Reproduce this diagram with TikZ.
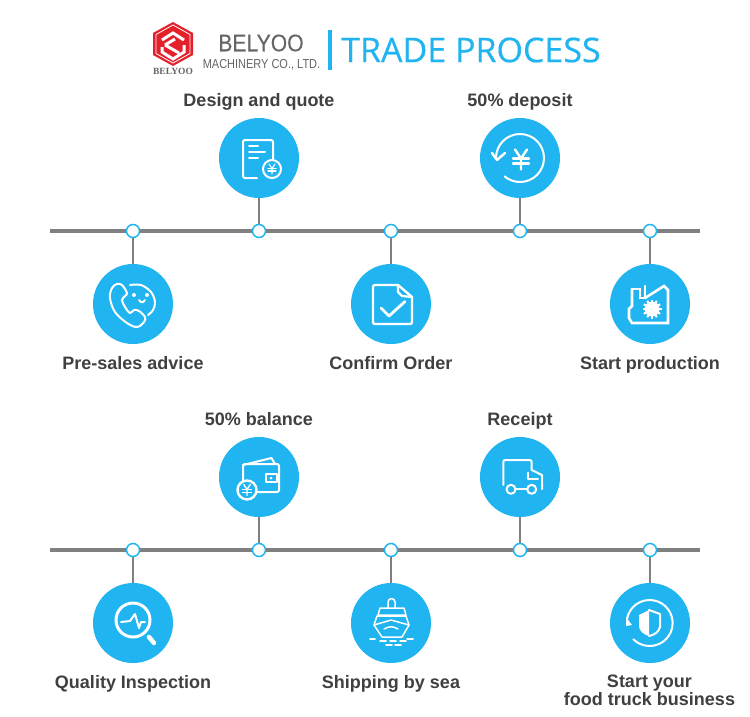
\documentclass[tikz,border=0pt]{standalone}
\usepackage{fontspec}
\setmainfont{Liberation Sans}
\newfontfamily\titlefont[FakeBold=0.4]{Open Sans}
\newfontfamily\brandfont{Liberation Serif}
\newfontfamily\namefont[FakeBold=0.3]{Liberation Sans}
\usetikzlibrary{arrows.meta, positioning, calc}
\definecolor{skyblue}{HTML}{20B4F0}
\definecolor{railgray}{HTML}{808080}
\definecolor{labelgray}{HTML}{404040}
\definecolor{logored}{HTML}{E6202A}
\definecolor{logogray}{HTML}{666666}

\tikzset{
  rail/.style={railgray, line width=4pt},
  stem/.style={railgray, line width=2pt},
  hub/.style={circle, draw=skyblue, fill=white, line width=1.5pt, minimum size=13pt, inner sep=0pt},
  badge/.style={circle, fill=skyblue, minimum size=80pt, inner sep=0pt},
  steplabel/.style={text=labelgray, font=\fontsize{18}{18}\selectfont\bfseries, align=center, anchor=base},
  icon/.style={white, line width=2pt, line cap=round, line join=round},
}

% yen sign drawn from strokes: #1 centre, #2 half height, #3 stroke
\newcommand{\yenmark}[3]{
  \begin{scope}[shift={#1}, scale=#2]
    \draw[icon, line width=#3] (-0.6,-1) -- (0,-0.1) -- (0.6,-1) (0,-0.1) -- (0,1);
    \draw[icon, line width=#3] (-0.8,-0.1) -- (0.8,-0.1) (-0.8,0.4) -- (0.8,0.4);
  \end{scope}
}

\begin{document}
\begin{tikzpicture}[x=1pt, y=-1pt]
\useasboundingbox (0,0) rectangle (750,716);
\fill[white] (0,0) rectangle (750,716);

% Logo
\fill[logored] (173,22) -- (193,33) -- (193,55) -- (173,66) -- (153,55) -- (153,33) -- cycle;
\draw[white, line width=0.8pt] (173,25) -- (190,34.5) -- (190,53.5) -- (173,63) -- (156,53.5) -- (156,34.5) -- cycle;
\draw[white, line width=3pt, line join=miter] (162,40) -- (173,33) -- (184,40) (165,45) -- (175,39) (165,45) -- (179,53) (162,47) -- (162,52) -- (173,59) -- (184,52) -- (184,45);
\node[text=logogray, font=\fontsize{9.5}{10}\selectfont\brandfont\bfseries] (brandmark) at (173,71.5) {BELYOO};
\node[text=logogray, font=\fontsize{24}{26}\selectfont\namefont] (brandname) at (261,43) {\scalebox{0.88}[1]{BELYOO}};
\node[text=logogray, font=\fontsize{13}{15}\selectfont] (brandsub) at (261.5,65) {\scalebox{0.845}[1]{MACHINERY CO., LTD.}};
\fill[skyblue] (328,30) rectangle (332,70);
\node[text=skyblue, font=\fontsize{34}{40}\selectfont\titlefont, anchor=west, inner sep=0pt] (title) at (341,50) {TRADE PROCESS};

% Timelines
\foreach \railname/\raily in {railone/231, railtwo/550} {
  \coordinate (\railname west) at (50,\raily);
  \coordinate (\railname east) at (700,\raily);
  \draw[rail] (\railname west) -- (\railname east);
}

% Stations: name/x/rail y/badge y/label baseline/text
\foreach \sname/\sx/\sy/\by/\ly/\stext in {
  presales/133/231/304/369/Pre-sales advice,
  design/259/231/158/106/Design and quote,
  confirm/391/231/304/369/Confirm Order,
  deposit/520/231/158/106/50\% deposit,
  production/650/231/304/369/Start production,
  inspection/133/550/623/688/Quality Inspection,
  balance/259/550/477/425/50\% balance,
  shipping/391/550/623/688/Shipping by sea,
  receipt/520/550/477/425/Receipt} {
  \node[badge] (\sname badge) at (\sx,\by) {};
  \node[hub] (\sname hub) at (\sx,\sy) {};
  \draw[stem] (\sname badge) -- (\sname hub);
  \node[steplabel] (\sname label) at (\sx,\ly) {\stext};
}
\node[badge] (businessbadge) at (650,623) {};
\node[hub] (businesshub) at (650,550) {};
\draw[stem] (businessbadge) -- (businesshub);
\node[steplabel, anchor=center] (businesslabel) at (649.5,690.5) {Start your\\food truck business};

% Design and quote icon
\begin{scope}[shift={(259,158)}]
  \draw[icon] (-2,20) -- (-14,20) arc (90:180:2) -- (-16,-16) arc (180:270:2) -- (12,-18) arc (270:360:2) -- (14,1);
  \draw[icon] (-10,-12) -- (-1,-12) (-10,-6) -- (6,-6) (-10,0) -- (-1,0);
  \draw[icon] (13,11) circle (9);
  \yenmark{(13,11)}{5}{1.1pt}
\end{scope}

% Deposit icon
\begin{scope}[shift={(520,158)}]
  \draw[icon] (-24,0) arc (180:490:24);
  \draw[icon, line width=2.4pt] (-28,-5) -- (-23,2) -- (-15,-5);
  \yenmark{(1,1.5)}{10}{2.4pt}
\end{scope}

% Advice icon
\begin{scope}[shift={(133,304)}]
  \draw[icon] plot[smooth cycle, tension=0.6] coordinates {(-16,-20) (-21,-16) (-23,-6) (-18,8) (-6,19) (4,23) (11,18) (12,13) (6,7) (1,6) (-3,9) (-8,3) (-11,-4) (-8,-8) (-6,-11) (-11,-19)};
  \draw[icon] plot[smooth, tension=0.6] coordinates {(-3,-19) (8,-19) (18,-12) (22,-2) (20,6) (15,11)};
  \fill[white] (1,-9) circle (2) (14,-9) circle (2);
  \draw[icon] (6,-4) .. controls (8,-1) and (10,-1) .. (12,-4);
\end{scope}

% Confirm icon
\begin{scope}[shift={(391,304)}]
  \draw[icon, line width=2.4pt] (7,-19) -- (-16,-19) arc (270:180:2) -- (-18,18) arc (180:90:2) -- (19,20) arc (90:0:2) -- (21,-7) -- cycle;
  \draw[icon, line width=2.2pt] (7,-19) -- (7,-12) -- (11,-8) -- (21,-7);
  \draw[icon, line width=2.8pt] (-10,4) -- (-2,12) -- (14,-2.5);
\end{scope}

% Production icon
\begin{scope}[shift={(650,304)}]
  \draw[icon, line width=2.6pt, line join=miter] (-18,-15) -- (-10,-15) -- (-10,-6) -- (-5,-6) -- (-5,-18);
  \draw[icon, line width=2.6pt, line join=miter] (-5,-6) -- (14,-18) -- (18,-14) -- (18,19) -- (-18,19) -- (-21,14) -- (-21,5) -- (-18,2) -- (-18,-15);
  \fill[white] (2,5) circle (7.5);
  \foreach \ang in {0,30,...,330} {
    \draw[white, line width=2pt] (2,5) -- ++(\ang:9.5);
  }
\end{scope}

% Balance icon
\begin{scope}[shift={(259,477)}]
  \draw[icon] (-16,4) -- (-16,-11) arc (180:270:2) -- (18,-13) arc (270:360:2) -- (20,13) arc (0:90:2) -- (-2,15);
  \draw[icon] (-16,-12) -- (12.5,-19) -- (16,-13);
  \draw[icon] (7,-3) rectangle (18,5);
  \fill[white] (12,1) circle (1.5);
  \draw[icon, line width=2.4pt] (-12,13) circle (9.5);
  \yenmark{(-12,13)}{5.5}{1.4pt}
\end{scope}

% Receipt icon
\begin{scope}[shift={(520,477)}]
  \draw[icon] (-16.7,8) -- (-16.7,-15) arc (180:270:2) -- (9.7,-17) arc (270:360:2) -- (11.7,-7) -- (22,-2) -- (22,12);
  \draw[icon] (8.3,-4.3) -- (8.3,2.3) -- (18,2.3);
  \draw[icon] (-9,12.3) circle (4.5) (11.7,12.3) circle (4.5);
  \draw[icon] (-4.5,12.3) -- (7.2,12.3);
\end{scope}

% Inspection icon
\begin{scope}[shift={(133,623)}]
  \draw[icon, line width=3pt] (0,-3) circle (17);
  \draw[icon, line width=4.5pt] (16,14) -- (21,20);
  \draw[icon] (-12,-1) -- (-3,-2) -- (2,-9) -- (6,5) -- (8,-1) -- (12,-1);
\end{scope}

% Shipping icon
\begin{scope}[shift={(391,623)}]
  \draw[icon, line width=1.5pt] (-3,-15) -- (-3,-21) arc (180:360:3.5) -- (4,-15);
  \draw[icon, line width=1.5pt] (-11,-15) -- (13,-15) -- (15,-8) -- (-13,-8) -- cycle;
  \draw[icon, line width=1.5pt] (-14,-7) -- (15,-7) -- (18,2) -- (11,14) -- (-9,14) -- (-17,2) -- cycle;
  \draw[icon, line width=1.5pt] (-17,2) -- (0,-3) -- (18,2);
  \draw[icon, line width=1.5pt] (-7,6) .. controls (-2,3) and (2,3) .. (7,6);
  \draw[icon, line width=1.5pt] (-21,16) -- (-16,16) (-11,18) -- (-5,18) (-1,18) -- (5,18) (9,18) -- (15,18) (16,16) -- (22,16) (-5,22) -- (1,22) (4,22) -- (10,22);
\end{scope}

% Business icon
\begin{scope}[shift={(650,623)}]
  \draw[icon] (-23,-4) arc (190:495:23);
  \fill[white] (-24,-6) -- (-18,2) -- (-24,3) -- cycle;
  \fill[white] (-1,-13) -- (-11,-8) -- (-11,4) .. controls (-10,9) and (-5,12) .. (-1,13) -- cycle;
  \draw[icon] (-1,-13) -- (10,-9) -- (10,4) .. controls (9,9) and (4,12) .. (-1,13);
\end{scope}

\end{tikzpicture}
\end{document}
